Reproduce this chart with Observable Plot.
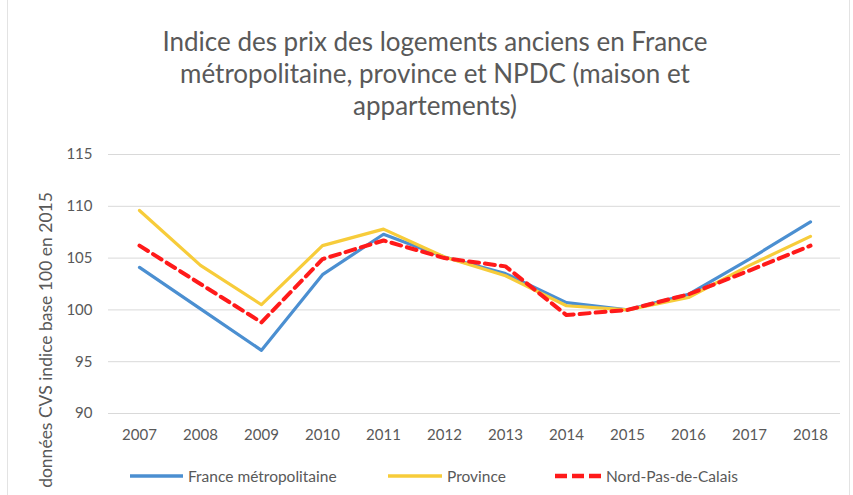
<!DOCTYPE html>
<html><head><meta charset="utf-8">
<script src="https://cdn.jsdelivr.net/npm/d3@7"></script>
<script src="https://cdn.jsdelivr.net/npm/@observablehq/plot@0.6"></script>
<style>
html,body{margin:0;padding:0;background:#fff;}
#wrap{position:relative;width:853px;height:495px;overflow:hidden;font-family:Lato,"Open Sans",sans-serif;}
#frame{position:absolute;left:7px;top:-2px;width:841px;height:510px;border:1px solid #e3e3e3;}
#title{position:absolute;left:0;width:870px;top:25px;text-align:center;font-size:26px;line-height:32px;color:#595959;}
#ylab{position:absolute;left:45px;top:340px;transform:translate(-50%,-50%) rotate(-90deg);white-space:nowrap;font-size:17.5px;color:#595959;}
#legend{position:absolute;top:466px;left:0;width:853px;height:20px;font-size:15.5px;line-height:20px;color:#595959;}
.lgline{position:absolute;top:0;}
.lgtxt{position:absolute;top:0;white-space:nowrap;}
#chart{position:absolute;left:0;top:0;}
</style></head>
<body>
<div id="wrap">
<div id="frame"></div>
<div id="chart"></div>
<div id="title">Indice des prix des logements anciens en France<br>métropolitaine, province et NPDC (maison et<br>appartements)</div>
<div id="ylab">données CVS indice base 100 en 2015</div>
<div id="legend"></div>
</div>
<script>
const years = [2007,2008,2009,2010,2011,2012,2013,2014,2015,2016,2017,2018];
const france = [104.1,100.1,96.1,103.4,107.3,105.1,103.5,100.7,100.0,101.5,104.9,108.5];
const province = [109.6,104.3,100.5,106.2,107.8,105.1,103.3,100.4,100.0,101.2,104.3,107.1];
const npdc = [106.2,102.5,98.8,104.9,106.7,105.0,104.2,99.5,100.0,101.5,103.8,106.2];
const yTicks = [90,95,100,105,110,115];
const seriesNames = ["France métropolitaine","Province","Nord-Pas-de-Calais"];
const colors = ["#4b8fd1","#f7cc3a","#ff1a1a"];

const rows = (vals, name) => years.map((y,i)=>({year:String(y), value:vals[i], serie:name}));
const dFr = rows(france, seriesNames[0]);
const dPr = rows(province, seriesNames[1]);
const dNp = rows(npdc, seriesNames[2]);

const chart = Plot.plot({
  width: 853, height: 495,
  marginTop: 154, marginBottom: 82, marginLeft: 108, marginRight: 13,
  style: {fontFamily: "Lato, 'Open Sans', sans-serif", fontSize: "15px", color: "#595959", background: "transparent"},
  x: {type: "point", domain: years.map(String), padding: 0.5, label: null, tickSize: 0, tickPadding: 16},
  y: {domain: [90,115], ticks: yTicks, label: null, tickSize: 0, tickPadding: 16},
  marks: [
    Plot.gridY(yTicks, {stroke: "#d9d9d9", strokeOpacity: 1, strokeWidth: 1}),
    Plot.line(dFr, {x: "year", y: "value", stroke: colors[0], strokeWidth: 3.2}),
    Plot.line(dPr, {x: "year", y: "value", stroke: colors[1], strokeWidth: 3.2}),
    Plot.line(dNp, {x: "year", y: "value", stroke: colors[2], strokeWidth: 4, strokeDasharray: "10,6"})
  ]
});
document.getElementById("chart").appendChild(chart);

const lg = document.getElementById("legend");
const lineX = [[130,183],[388,442],[555,601]];
const textX = [188, 447, 606];
seriesNames.forEach((n,i)=>{
  const w = lineX[i][1]-lineX[i][0];
  const dash = i===2 ? 'stroke-dasharray="12,5"' : '';
  const s = document.createElement("div");
  s.className = "lgline";
  s.style.left = lineX[i][0] + "px";
  s.innerHTML = `<svg width="${w}" height="20" style="display:block"><line x1="0" x2="${w}" y1="10" y2="10" stroke="${colors[i]}" stroke-width="${i===2?4.5:3.5}" ${dash}/></svg>`;
  lg.appendChild(s);
  const t = document.createElement("div");
  t.className = "lgtxt";
  t.style.left = textX[i] + "px";
  t.textContent = n;
  lg.appendChild(t);
});
</script>
</body></html>
